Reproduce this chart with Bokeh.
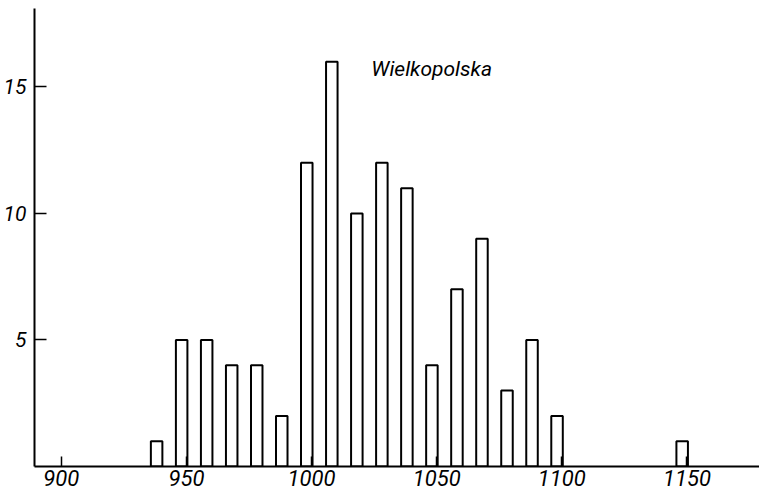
from bokeh.plotting import figure
from bokeh.models import FixedTicker, Range1d, Label
from bokeh.embed import file_html
from bokeh.resources import INLINE

# class upper bounds and frequencies
classes = [940, 950, 960, 970, 980, 990, 1000, 1010, 1020, 1030, 1040,
           1050, 1060, 1070, 1080, 1090, 1100, 1150]
counts = [1, 5, 5, 4, 4, 2, 12, 16, 10, 12, 11, 4, 7, 9, 3, 5, 2, 1]
x_ticks = [900, 950, 1000, 1050, 1100, 1150]
y_ticks = [5, 10, 15]
title_text = "Wielkopolska"

FONT = "Roboto"

p = figure(width=759, height=492, output_backend="svg", toolbar_location=None,
           x_range=Range1d(889.3, 1179), y_range=Range1d(0, 18.1),
           min_border_left=34, min_border_right=0, min_border_top=8,
           min_border_bottom=26)
p.outline_line_color = None
p.grid.visible = False
p.background_fill_color = "white"

bar_w = 4.6
p.quad(left=[c - bar_w + 0.4 for c in classes], right=[c + 0.4 for c in classes],
       bottom=0, top=counts, fill_color="white", line_color="black", line_width=2)

for ax in (p.xaxis[0], p.yaxis[0]):
    ax.axis_line_color = "black"
    ax.axis_line_width = 2
    ax.major_tick_line_color = "black"
    ax.major_tick_line_width = 1.5
    ax.minor_tick_line_color = None
    ax.major_label_text_font = FONT
    ax.major_label_text_font_style = "italic"
    ax.major_label_text_color = "black"

p.xaxis.major_label_text_font_size = "22px"
p.yaxis.major_label_text_font_size = "21px"

p.xaxis.ticker = FixedTicker(ticks=x_ticks)
p.xaxis.major_tick_in = 10
p.xaxis.major_tick_out = 0
p.xaxis.major_label_standoff = 3

p.yaxis.ticker = FixedTicker(ticks=y_ticks)
p.yaxis.major_tick_in = 12
p.yaxis.major_tick_out = 0
p.yaxis.major_label_standoff = 8

p.add_layout(Label(x=1048, y=15.7, text=title_text, text_font=FONT,
                   text_font_style="italic", text_font_size="21px",
                   text_align="center", text_baseline="middle", text_color="black"))

open("out.html", "w").write(file_html(p, INLINE))
